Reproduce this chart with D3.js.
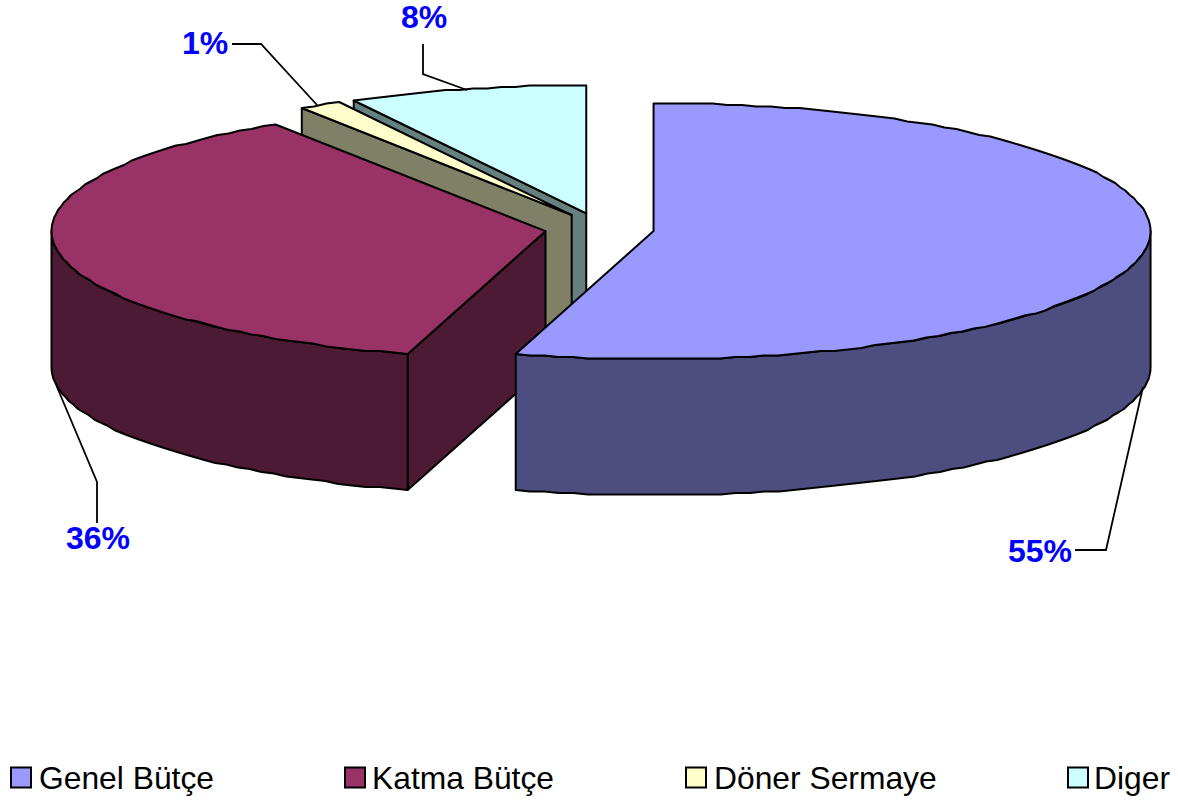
<!DOCTYPE html>
<html><head><meta charset="utf-8">
<script src="https://cdn.jsdelivr.net/npm/d3@7"></script>
<style>html,body{margin:0;padding:0;background:#fff}svg{display:block}text{font-family:"Liberation Sans",Arial,sans-serif}</style>
</head><body><svg id="c" width="1178" height="801"></svg>
<script>
const categories = ["Genel Bütçe","Katma Bütçe","Döner Sermaye","Diger"];
const values = [54.5,36.3,1.4,7.8];
const topColors = ["#9999FF","#993366","#FFFFCC","#CCFFFF"];
const sideColors = ["#4D4D80","#4D1A33","#808066","#668080"];

const svg=d3.select("#c");
const rxR=497, rxL=494, ry=128, depth=136, cx0=599.5, cy0=228.8, exX=54.6, exY=16, stepY=1.5;
const arcs=d3.pie().sort(null).value(d=>d).startAngle(0).endAngle(2*Math.PI)(values);
const line=d3.line();
const stroke={stroke:"#000","stroke-width":2,"stroke-linejoin":"round"};

const slices=arcs.map((a,i)=>{
  const mid=(a.startAngle+a.endAngle)/2;
  return {i,a,cx:cx0+exX*Math.sin(mid),cy:cy0-exY*Math.cos(mid)};
});
// rim point; the rim is drawn slightly stepped, like the coarse polygon of the original
const pt=(s,t,dz=0)=>{
  const sin=Math.sin(t), rx=sin<0?rxL:rxR;
  const y=s.cy-ry*Math.cos(t);
  return [s.cx+rx*sin,Math.round(y/stepY)*stepY+dz];
};
function samples(a0,a1){
  const n=Math.max(2,Math.ceil((a1-a0)/0.03));
  return d3.range(n+1).map(k=>a0+(a1-a0)*k/n);
}
function apply(sel){Object.entries(stroke).forEach(([k,v])=>sel.attr(k,v));return sel;}
const g=svg.append("g");
// back to front: Diger, Döner, Katma, Genel
[3,2,1,0].forEach(idx=>{
  const s=slices[idx], a=s.a, sg=g.append("g");
  const apex=[s.cx,s.cy], apexB=[s.cx,s.cy+depth];
  if(idx>0){
    const p=pt(s,a.startAngle);
    apply(sg.append("path")).attr("fill",sideColors[idx])
      .attr("d",line([apex,p,[p[0],p[1]+depth],apexB])+"Z");
  }
  const w0=Math.max(a.startAngle,Math.PI/2), w1=Math.min(a.endAngle,1.5*Math.PI);
  if(w1>w0){
    const ts=samples(w0,w1);
    const up=ts.map(t=>pt(s,t)), dn=ts.map(t=>pt(s,t,depth)).reverse();
    apply(sg.append("path")).attr("fill",sideColors[idx]).attr("d",line(up.concat(dn))+"Z");
  }
  const top=[apex].concat(samples(a.startAngle,a.endAngle).map(t=>pt(s,t)));
  apply(sg.append("path")).attr("fill",topColors[idx]).attr("d",line(top)+"Z");
});

const leaders=[
  {pts:[[1075,550],[1106,550],[1143,387]],x:1040,y:562},
  {pts:[[97,523],[97,482],[57,387]],x:98,y:549},
  {pts:[[232,44],[261,44],[317,105]],x:205,y:54},
  {pts:[[423,44],[423,74],[467,90]],x:424,y:28}
];
leaders.forEach((l,i)=>{
  svg.append("path").attr("d",line(l.pts)).attr("fill","none").attr("stroke","#000").attr("stroke-width",1.8);
  svg.append("text").attr("x",l.x).attr("y",l.y).attr("text-anchor","middle")
    .attr("font-size",32).attr("font-weight","bold").attr("fill","#0000FF")
    .text(Math.round(values[i])+"%");
});

const legX=[11,345,686,1068], legText=[39,372,714,1094];
const leg=svg.append("g").selectAll("g").data(categories).join("g");
leg.append("rect").attr("x",(d,i)=>legX[i]).attr("y",767.5).attr("width",20).attr("height",20)
  .attr("fill",(d,i)=>topColors[i]).attr("stroke","#000").attr("stroke-width",2);
leg.append("text").attr("x",(d,i)=>legText[i]).attr("y",788.5).attr("font-size",31.8).attr("fill","#000").text(d=>d);
</script></body></html>
